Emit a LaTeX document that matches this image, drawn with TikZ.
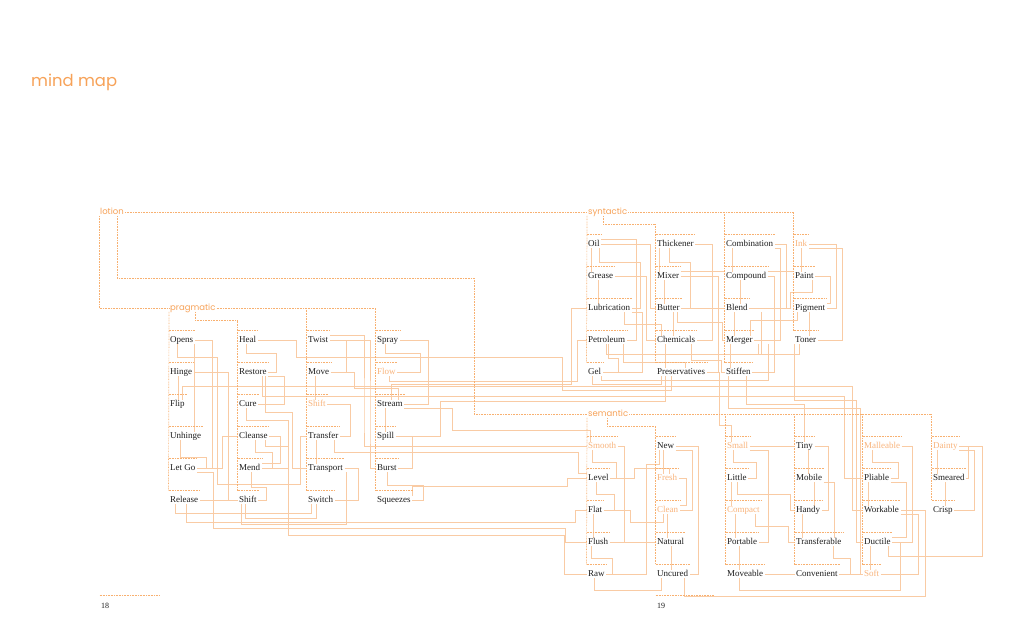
\documentclass[tikz,border=0pt]{standalone}
\usepackage{fontspec}
\setmainfont{Liberation Serif}
\newfontfamily\hd{Poppins}
\definecolor{hdr}{HTML}{F7A258}
\definecolor{ow}{HTML}{F9B47C}
\definecolor{dotc}{HTML}{F8B070}
\definecolor{lnc}{HTML}{F9CBA4}
\definecolor{txt}{HTML}{1E1E1E}
\pgfdeclarelayer{bg}
\pgfsetlayers{bg,main}
\tikzset{
  wd/.style={anchor=west, xshift=-1.5pt, inner xsep=1.5pt, inner ysep=0pt, text height=6.5pt, text depth=2pt, font=\fontsize{9}{10}\selectfont, text=txt},
  hdnode/.style={anchor=west, xshift=-1pt, inner xsep=1pt, inner ysep=0pt, text height=6pt, text depth=1.5pt, font=\hd\fontsize{8.5}{9}\selectfont, text=hdr},
  ln/.style={draw=lnc, line width=0.65pt},
  dot/.style={draw=dotc, line width=0.7pt, dash pattern=on 0.7pt off 0.9pt}
}
\newcommand\W[5][txt]{\node[wd,text=#1] (#2) at (#3,#4) {#5};
  \draw[dot] ([yshift=5pt]#2.north west) -- ([yshift=5pt]#2.north east);}
\newcommand\Lr[3]{\draw[ln] (#1) -- (#1 -| #2,0) -- (#3 -| #2,0) -- (#3);}
\begin{document}
\begin{tikzpicture}[x=1pt,y=-1pt]
\begin{pgfonlayer}{bg}
\fill[white] (0,0) rectangle (1024,640);
\end{pgfonlayer}
\useasboundingbox (0,0) rectangle (1024,640);

% title
\node[anchor=west, inner sep=0pt, font=\hd\fontsize{16.4}{18}\selectfont, text=hdr] (title) at (31,82) {mind map};

% headers
\node[hdnode] (lotion) at (100,212) {lotion};
\node[hdnode] (pragmatic) at (170,308) {pragmatic};
\node[hdnode] (syntactic) at (588,212) {syntactic};
\node[hdnode] (semantic) at (588,414) {semantic};

% pragmatic words
\W{opens}{170}{340}{Opens}
\W{hinge}{170}{372}{Hinge}
\W{flip}{170}{404}{Flip}
\W{unhinge}{170}{436}{Unhinge}
\W{letgo}{170}{468}{Let Go}
\W{release}{170}{500}{Release}
\W{heal}{239}{340}{Heal}
\W{restore}{239}{372}{Restore}
\W{cure}{239}{404}{Cure}
\W{cleanse}{239}{436}{Cleanse}
\W{mend}{239}{468}{Mend}
\W{shifta}{239}{500}{Shift}
\W{twist}{308}{340}{Twist}
\W{move}{308}{372}{Move}
\W[ow]{shiftb}{308}{404}{Shift}
\W{transfer}{308}{436}{Transfer}
\W{transport}{308}{468}{Transport}
\W{switch}{308}{500}{Switch}
\W{spray}{377}{340}{Spray}
\W[ow]{flow}{377}{372}{Flow}
\W{stream}{377}{404}{Stream}
\W{spill}{377}{436}{Spill}
\W{burst}{377}{468}{Burst}
\W{squeezes}{377}{500}{Squeezes}

% syntactic words
\W{oil}{588}{244}{Oil}
\W{grease}{588}{276}{Grease}
\W{lubrication}{588}{308}{Lubrication}
\W{petroleum}{588}{340}{Petroleum}
\W{gel}{588}{372}{Gel}
\W{thickener}{657}{244}{Thickener}
\W{mixer}{657}{276}{Mixer}
\W{butter}{657}{308}{Butter}
\W{chemicals}{657}{340}{Chemicals}
\W{preservatives}{657}{372}{Preservatives}
\W{combination}{726}{244}{Combination}
\W{compound}{726}{276}{Compound}
\W{blend}{726}{308}{Blend}
\W{merger}{726}{340}{Merger}
\W{stiffen}{726}{372}{Stiffen}
\W[ow]{ink}{795}{244}{Ink}
\W{paint}{795}{276}{Paint}
\W{pigment}{795}{308}{Pigment}
\W{toner}{795}{340}{Toner}

% semantic words
\W[ow]{smooth}{588}{446}{Smooth}
\W{level}{588}{478}{Level}
\W{flat}{588}{510}{Flat}
\W{flush}{588}{542}{Flush}
\W{raw}{588}{574}{Raw}
\W{new}{657}{446}{New}
\W[ow]{fresh}{657}{478}{Fresh}
\W[ow]{clean}{657}{510}{Clean}
\W{natural}{657}{542}{Natural}
\W{uncured}{657}{574}{Uncured}
\W[ow]{small}{727}{446}{Small}
\W{little}{727}{478}{Little}
\W[ow]{compact}{727}{510}{Compact}
\W{portable}{727}{542}{Portable}
\W{moveable}{727}{574}{Moveable}
\W{tiny}{796}{446}{Tiny}
\W{mobile}{796}{478}{Mobile}
\W{handy}{796}{510}{Handy}
\W{transferable}{796}{542}{Transferable}
\W{convenient}{796}{574}{Convenient}
\W[ow]{malleable}{864}{446}{Malleable}
\W{pliable}{864}{478}{Pliable}
\W{workable}{864}{510}{Workable}
\W{ductile}{864}{542}{Ductile}
\W[ow]{soft}{864}{574}{Soft}
\W[ow]{dainty}{933}{446}{Dainty}
\W{smeared}{933}{478}{Smeared}
\W{crisp}{933}{510}{Crisp}

% page numbers
\node[wd, font=\fontsize{8}{9}\selectfont] (pga) at (101,606) {18};
\node[wd, font=\fontsize{8}{9}\selectfont] (pgb) at (657,606) {19};
\draw[dot] ([yshift=6pt]pga.north west) -- ++(60,0);
\draw[dot] ([yshift=6pt]pgb.north west) -- ++(58,0);

% hierarchy (dotted)
\draw[dot] (lotion.east) -- (syntactic.west);
\draw[dot] (lotion.south west) |- (pragmatic.west);
\draw[dot] ([xshift=18pt]lotion.south west) |- (474,278) |- (semantic.west);
\draw[dot] (pragmatic.east) -| ([yshift=5pt]squeezes.north west);
\draw[dot] (pragmatic.south west) -- ([yshift=5pt]release.north west);
\draw[dot] ([xshift=26pt]pragmatic.south west) -- ++(0,8) -| ([yshift=5pt]shifta.north west);
\draw[dot] (twist.west |- pragmatic.east) -- ([yshift=5pt]switch.north west);
\draw[dot] (syntactic.east) -| ([yshift=5pt]toner.north west);
\draw[dot] (syntactic.south west) -- ([yshift=5pt]gel.north west);
\draw[dot] ([xshift=16pt]syntactic.south west) -- ++(0,8) -| ([yshift=5pt]preservatives.north west);
\draw[dot] (combination.west |- syntactic.east) -- ([yshift=5pt]stiffen.north west);
\draw[dot] (semantic.east) -| ([yshift=5pt]crisp.north west);
\draw[dot] (semantic.south west) -- ([yshift=5pt]raw.north west);
\draw[dot] ([xshift=20pt]semantic.south west) -- ++(0,8) -| ([yshift=5pt]uncured.north west);
\draw[dot] (small.west |- semantic.east) -- ([yshift=5pt]moveable.north west);
\draw[dot] (tiny.west |- semantic.east) -- ([yshift=5pt]convenient.north west);
\draw[dot] (malleable.west |- semantic.east) -- ([yshift=5pt]soft.north west);

\begin{pgfonlayer}{bg}
% ---- pragmatic links
\Lr{opens.east}{212}{letgo.east}
\draw[ln] ([xshift=-4pt]opens.south) |- (217,357) |- (300,484) |- (transfer.west);
\draw[ln] ([xshift=10pt]hinge.south west) -- ([xshift=10pt]flip.north west);
\draw[ln] ([xshift=26pt]opens.south west) -- ([xshift=26pt]unhinge.north west);
\Lr{hinge.east}{228}{release.east}
\draw[ln] ([xshift=12pt]unhinge.south west) |- (206,457) |- (letgo.east);
\draw[ln] (letgo.east) -| (222,436) -- (cleanse.west);
\draw[ln] (release.east) -- (shifta.west);
\draw[ln] ([xshift=18pt]release.south west) |- (575,522) |- (flat.west);
\draw[ln] ([xshift=7pt]release.south west) -- ++(0,9) -| ([xshift=5pt]switch.south west);
\draw[ln] (letgo.south east) -| (213,528) -- (565,528) |- (flush.west);
\draw[ln] (heal.east) -| (296,357) -| (562,390) -| ([xshift=-10pt]preservatives.south);
\draw[ln] ([xshift=9pt]heal.south west) |- (276,353) |- (restore.east);
\Lr{cure.east}{284}{restore.south east}
\draw[ln] ([xshift=9pt]cure.south west) |- (288,420) |- (mend.east);
\Lr{cleanse.east}{280}{mend.north east}
\draw[ln] ([xshift=18pt]cleanse.south west) |- (272,452) |- (mend.east);
\draw[ln] ([xshift=-4pt]cleanse.south east) |- (288,446) |- (564,535) |- (raw.west);
\draw[ln] ([xshift=-3pt]restore.south east) |- (292,412) |- (transport.west);
\draw[ln] ([xshift=14pt]mend.south west) |- (266,487) |- (shifta.east);
\draw[ln] ([xshift=8pt]shifta.south west) -- ++(0,14) -| ([xshift=-4pt]switch.south);
\draw[ln] ([xshift=4pt]shifta.south west) -- ++(0,20) -| ([xshift=2pt]transport.south east);
\Lr{twist.east}{346}{move.east}
\draw[ln] (twist.north east) -| (364,420) |- (smooth.west);
\draw[ln] ([xshift=9pt]move.south west) -- ([xshift=9pt]shiftb.north west);
\draw[ln] (move.east) -| (354,388) -| ([xshift=-6pt]stream.north east);
\Lr{shiftb.east}{350}{transfer.east}
\draw[ln] ([xshift=10pt]transfer.south west) -- ([xshift=10pt]transport.north west);
\draw[ln] ([xshift=-6pt]transfer.south east) |- (578,452) |- (level.north west);
\Lr{transport.east}{358}{switch.east}
\draw[ln] ([xshift=10pt]spray.south west) |- (420,353) |- (flow.east);
\Lr{spray.east}{428}{stream.east}
\draw[ln] ([xshift=14pt]flow.south west) |- (577,381) |- (petroleum.west);
\draw[ln] ([xshift=10pt]stream.south west) -- ([xshift=10pt]spill.north west);
\draw[ln] (stream.south east) -| (452,430) -| ([xshift=4pt]smooth.north west);
\Lr{spill.east}{412}{burst.east}
\draw[ln] ([xshift=12pt]burst.south west) |- (423,485) |- (squeezes.east);
\draw[ln] (twist.east) -| (370,420) |- (burst.west);
\draw[ln] ([xshift=-6pt]restore.south east) |- (844,396) |- (pliable.west);
\draw[ln] ([xshift=-4pt]flip.north east) |- (852,386) |- (workable.west);
\draw[ln] (squeezes.north east) |- (567,486) |- (level.west);
\draw[ln] (lubrication.west) -| (571,384) -| ([xshift=16pt]stream.north west);

% ---- syntactic links
\draw[ln] (oil.east) -| (650,290) |- (butter.west);
\draw[ln] ([xshift=5pt]oil.south west) -- ([xshift=5pt]grease.north west);
\draw[ln] ([xshift=-2pt]oil.south east) |- (640,262) |- (lubrication.east);
\Lr{oil.north east}{636}{petroleum.east}
\draw[ln] ([xshift=12pt]grease.south west) -- ([xshift=12pt]lubrication.north west);
\draw[ln] (grease.east) -| (646,330) |- (chemicals.west);
\Lr{lubrication.south east}{642}{gel.east}
\draw[ln] ([xshift=-8pt]lubrication.south east) -- ++(0,12) -| ([xshift=6pt]chemicals.north west);
\draw[ln] ([xshift=22pt]petroleum.south west) |- (618,358) |- (gel.east);
\draw[ln] ([xshift=-4pt]petroleum.south east) -- ++(0,18) -| ([xshift=30pt]preservatives.north west);
\draw[ln] ([xshift=6pt]gel.south west) -- ++(0,8) -| ([xshift=-20pt]preservatives.south);
\Lr{thickener.east}{712}{chemicals.east}
\draw[ln] ([xshift=4pt]thickener.south west) -- ([xshift=4pt]mixer.north west);
\draw[ln] ([xshift=14pt]thickener.south west) |- (690,262) |- (butter.east);
\Lr{mixer.east}{718}{preservatives.east}
\draw[ln] (mixer.north east) -- (compound.north west);
\draw[ln] ([xshift=9pt]mixer.south west) -- ([xshift=9pt]butter.north west);
\draw[ln] ([xshift=18pt]butter.south west) -- ([xshift=18pt]chemicals.north west);
\draw[ln] (butter.east) -- (blend.west);
\draw[ln] ([xshift=-4pt]butter.south east) |- (722,322) |- (merger.west);
\draw[ln] ([xshift=-6pt]chemicals.south east) |- (721,360) |- (stiffen.west);
\draw[ln] ([xshift=10pt]chemicals.south west) -- ([xshift=10pt]preservatives.north west);
\draw[ln] ([xshift=10pt]preservatives.south west) |- (440,401) |- (spill.east);
\draw[ln] ([xshift=8pt]combination.south west) -- ([xshift=8pt]compound.north west);
\Lr{combination.east}{786}{blend.east}
\Lr{combination.south east}{780}{merger.east}
\Lr{compound.east}{774}{stiffen.east}
\draw[ln] (compound.north east) -- (paint.north west);
\draw[ln] ([xshift=16pt]compound.south west) -- ([xshift=16pt]blend.north west);
\draw[ln] ([xshift=10pt]blend.south west) -- ([xshift=10pt]merger.north west);
\draw[ln] ([xshift=6pt]merger.south west) -- ([xshift=6pt]stiffen.north west);
\draw[ln] ([xshift=12pt]blend.south east) -- ++(0,41.5) -| ([xshift=20pt]petroleum.south west);
\draw[ln] ([xshift=14pt]merger.south east) -- ++(0,36) -| ([xshift=-2pt]gel.south east);
\draw[ln] ([xshift=8pt]ink.south west) -- ([xshift=8pt]paint.north west);
\Lr{ink.east}{836}{pigment.east}
\Lr{ink.south east}{842}{toner.east}
\Lr{paint.east}{830}{pigment.north east}
\draw[ln] ([xshift=16pt]pigment.south west) -- ([xshift=16pt]toner.north west);
\draw[ln] ([xshift=4pt]pigment.south west) -- ++(0,8) -| ([xshift=-4pt]merger.north east);
\draw[ln] ([xshift=-3pt]paint.south east) |- (790,292) |- (blend.east);
\draw[ln] ([xshift=6pt]toner.south west) -- ++(0,10) -| ([xshift=4pt]merger.south east);
\draw[ln] ([xshift=1pt]toner.south west) |- (856,400) |- (ductile.west);
\draw[ln] ([xshift=4pt]stiffen.south west) |- (860,408) |- (soft.west);
\draw[ln] ([xshift=-6pt]stiffen.south east) -- ++(0,27.5) -| ([xshift=10pt]tiny.north west);
\draw[ln] (preservatives.east) -| (719,425) -| ([xshift=6pt]small.north west);

% ---- semantic links
\draw[ln] ([xshift=6pt]smooth.south west) |- (616,462) |- (level.east);
\Lr{smooth.east}{624}{flush.east}
\draw[ln] ([xshift=10pt]level.south west) |- (614,494) |- (flat.east);
\draw[ln] ([xshift=7pt]flat.south west) -- ([xshift=7pt]flush.north west);
\draw[ln] ([xshift=5pt]flush.south west) |- (612,558) |- (raw.east);
\draw[ln] (raw.east) -| (646,464) -| ([xshift=4pt]new.south west);
\Lr{new.east}{698}{uncured.east}
\Lr{new.south east}{692}{clean.east}
\draw[ln] ([xshift=8pt]new.south west) -- ([xshift=8pt]fresh.north west);
\Lr{fresh.east}{686}{clean.north east}
\draw[ln] ([xshift=12pt]clean.south west) -- ([xshift=12pt]natural.north west);
\draw[ln] ([xshift=16pt]natural.south west) -- ([xshift=16pt]uncured.north west);
\draw[ln] (level.east) -| (634,468) -| ([xshift=14pt]fresh.north west);
\draw[ln] (flat.east) -| (630,522) -| ([xshift=8pt]clean.south west);
\draw[ln] (flush.east) -- (natural.west);
\draw[ln] ([xshift=8pt]raw.south west) -- ++(0,12) -| ([xshift=6pt]uncured.south west);
\draw[ln] (small.east) -- (tiny.west);
\draw[ln] ([xshift=8pt]small.south west) |- (756,462) |- (little.east);
\Lr{small.south east}{768}{portable.east}
\draw[ln] ([xshift=6pt]little.south west) -- ([xshift=6pt]compact.north west);
\draw[ln] ([xshift=12pt]little.south west) |- (790,494) |- (handy.west);
\draw[ln] ([xshift=10pt]compact.south west) -- ([xshift=10pt]portable.north west);
\draw[ln] ([xshift=14pt]portable.south west) -- ([xshift=14pt]moveable.north west);
\draw[ln] ([xshift=-6pt]compact.south east) |- (788,526) |- (transferable.west);
\draw[ln] (moveable.east) -- (convenient.west);
\draw[ln] ([xshift=14pt]moveable.south west) |- (900,590) |- (ductile.east);
\draw[ln] ([xshift=-6pt]uncured.south east) |- (925,596) |- (workable.east);
\draw[ln] ([xshift=14pt]tiny.south west) -- ([xshift=14pt]mobile.north west);
\Lr{tiny.east}{828}{handy.east}
\draw[ln] (mobile.south east) -| ([xshift=16pt]transferable.north);
\draw[ln] ([xshift=20pt]mobile.south west) -- ([xshift=20pt]handy.north west);
\draw[ln] ([xshift=8pt]handy.south west) -- ([xshift=8pt]transferable.north west);
\draw[ln] ([xshift=-10pt]transferable.south east) |- (850,558) |- (convenient.east);
\draw[ln] (convenient.east) -- (soft.west);
\draw[ln] ([xshift=10pt]malleable.south west) |- (898,462) |- (pliable.east);
\Lr{malleable.east}{912}{ductile.east}
\draw[ln] ([xshift=6pt]pliable.south west) -- ([xshift=6pt]workable.north west);
\Lr{pliable.south east}{906}{ductile.north east}
\Lr{workable.south east}{918}{soft.east}
\draw[ln] ([xshift=8pt]ductile.south west) -- ([xshift=8pt]soft.north west);
\draw[ln] ([xshift=-4pt]ductile.south east) |- (982,556) |- (dainty.east);
\draw[ln] ([xshift=6pt]dainty.south west) -- ([xshift=6pt]smeared.north west);
\Lr{dainty.south east}{974}{crisp.east}
\Lr{smeared.east}{968}{dainty.east}
\draw[ln] ([xshift=14pt]smeared.south west) -- ([xshift=14pt]crisp.north west);
\end{pgfonlayer}
\end{tikzpicture}
\end{document}
